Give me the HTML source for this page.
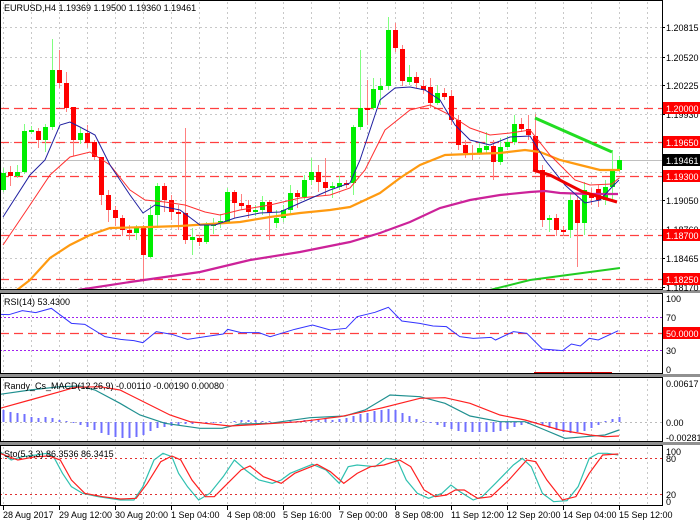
<!DOCTYPE html>
<html><head><meta charset="utf-8"><style>
html,body{margin:0;padding:0;background:#fff;}
svg{display:block;font-family:"Liberation Sans",sans-serif;}
</style></head><body>
<svg id="s" width="700" height="525" viewBox="0 0 700 525" xmlns="http://www.w3.org/2000/svg">
<rect width="700" height="525" fill="#fff"/>
<g id="grid" stroke="#c8c8c8" stroke-width="1" stroke-dasharray="2,3"></g>
<g id="lev"></g>
<g id="cand"></g>
<g id="lines" fill="none"></g>
<g id="frame"></g>
<g id="txt" font-size="9" fill="#000"></g>
</svg>
<script>
var NS="http://www.w3.org/2000/svg";
function el(p,t,a,txt){var e=document.createElementNS(NS,t);for(var k in a)e.setAttribute(k,a[k]);if(txt!=null)e.textContent=txt;document.getElementById(p).appendChild(e);return e;}
function pl(p,pts,col,w,extra){var a={points:pts.map(function(q){return q[0]+","+q[1]}).join(" "),stroke:col,"stroke-width":w,fill:"none"};for(var k in extra)a[k]=extra[k];el(p,"polyline",a);}
var R=662;
for(var x=3;x<R;x+=28){
 [[2,289],[295,374],[379,443],[447,505]].forEach(function(r){el("grid","line",{x1:x+.5,y1:r[0],x2:x+.5,y2:r[1]});});
}
[27,57,85,114,142,172,200,229,258,287].forEach(function(y){el("grid","line",{x1:0,y1:y+.5,x2:R,y2:y+.5});});
[317,350].forEach(function(y){el("grid","line",{x1:0,y1:y+.5,x2:R,y2:y+.5,stroke:"#a020f0","stroke-dasharray":"2,2"});});
el("grid","line",{x1:0,y1:422.5,x2:R,y2:422.5,stroke:"#bbb","stroke-dasharray":"2,3"});
[458,494].forEach(function(y){el("grid","line",{x1:0,y1:y+.5,x2:R,y2:y+.5,stroke:"#e03030","stroke-dasharray":"2,3"});});
el("lev","line",{x1:0,y1:160.5,x2:R,y2:160.5,stroke:"#c0c0c0","stroke-width":1});
[108,142,176,235,279].forEach(function(y){el("lev","line",{x1:0,y1:y+.5,x2:R,y2:y+.5,stroke:"#ff4040","stroke-width":1.3,"stroke-dasharray":"9,5"});});
el("lev","line",{x1:0,y1:333.5,x2:R,y2:333.5,stroke:"#ff4040","stroke-width":1.3,"stroke-dasharray":"9,5"});
el("lev","rect",{x:534,y:372,width:78,height:3,fill:"#d00000"});
var C=[[3,190,173,168,192],[10,172,176,166,186],[17,176,172,165,178],[24,172,131,124,174],[31,131,130,126,134],[38,131,140,128,148],[45,140,127,124,152],[52,127,70,39,130],[59,70,83,50,88],[66,83,108,72,112],[73,107,140,120,156],[80,140,133,128,144],[87,133,143,125,148],[94,142,157,140,160],[101,157,195,160,205],[108,195,210,190,222],[115,210,218,206,226],[122,218,230,215,236],[129,230,233,225,240],[136,233,228,225,240],[143,228,255,225,282],[150,257,215,205,258],[157,215,186,183,228],[164,186,200,183,212],[171,200,212,195,220],[178,212,214,205,230],[185,213,240,128,244],[192,240,237,228,255],[199,238,242,235,246],[206,242,225,222,244],[213,226,224,218,234],[220,224,221,214,228],[227,222,192,188,224],[234,192,203,190,218],[241,203,206,194,210],[248,205,212,200,218],[255,212,210,205,216],[262,210,202,196,215],[269,202,213,200,240],[276,223,218,210,228],[283,218,210,205,222],[290,210,193,185,214],[297,193,197,190,208],[304,197,180,175,200],[311,180,172,158,185],[318,172,182,165,192],[325,182,188,158,195],[332,188,186,182,198],[339,187,183,176,190],[346,183,184,180,188],[353,183,127,125,195],[360,127,108,50,130],[367,108,109,80,125],[373,108,89,78,110],[380,90,86,78,105],[388,86,30,17,90],[395,30,48,23,52],[402,49,81,45,86],[409,82,77,65,85],[416,77,83,72,88],[423,86,90,80,94],[430,87,103,78,108],[437,103,93,85,105],[444,93,97,88,100],[451,96,120,90,125],[458,120,145,115,150],[465,145,153,140,158],[472,153,153,145,160],[479,153,148,142,155],[486,150,146,132,153],[493,146,162,140,180],[500,162,147,138,165],[507,147,142,136,150],[514,142,124,115,145],[521,124,129,118,132],[528,129,135,115,140],[535,136,170,114,174],[542,170,220,165,227],[549,220,218,215,232],[556,218,230,214,236],[563,230,230,226,236],[570,230,200,194,238],[577,200,223,196,267],[584,223,190,182,235],[591,193,198,188,205],[598,189,200,185,207],[605,200,187,180,205],[612,187,170,150,200],[619,170,160,156,172]];
C.forEach(function(c){var up=c[2]<c[1];var wc=up?"#80ff80":"#ff8080",bc=up?"#00ee00":"#ff0000";
 el("cand","line",{x1:c[0]+.5,y1:c[3],x2:c[0]+.5,y2:c[4],stroke:wc,"stroke-width":1});
 var t=Math.min(c[1],c[2]),h=Math.max(2,Math.abs(c[1]-c[2]));el("cand","rect",{x:c[0]-2,y:t,width:5,height:h,fill:bc});});
pl("lines",[[17,290],[30,280],[50,258],[70,245],[90,235],[110,228],[150,227],[180,226],[210,224],[240,222],[270,217],[300,213],[330,210],[350,207],[380,193],[400,178],[420,165],[445,155],[470,154],[500,153],[525,150],[540,152],[560,160],[580,165],[600,170],[620,170]],"#ff9a10",2.2);
pl("lines",[[78,290],[130,282],[200,272],[250,260],[300,252],[350,242],[380,233],[410,222],[440,208],[470,200],[500,195],[530,192],[545,191],[560,193],[590,194],[618,194]],"#cc2299",2.2);
pl("lines",[[3,245],[30,205],[50,175],[70,157],[90,152],[110,165],[130,190],[145,200],[165,202],[185,205],[205,212],[220,215],[240,210],[270,205],[300,198],[330,195],[350,188],[365,170],[385,130],[410,110],[430,105],[450,115],[470,128],[490,135],[510,133],[530,130],[550,155],[575,180],[590,185],[612,184],[619,178]],"#ff3030",1);
pl("lines",[[3,217],[30,175],[45,160],[60,125],[70,122],[80,127],[95,135],[110,165],[130,195],[143,213],[155,205],[165,207],[180,210],[200,225],[215,225],[235,218],[260,213],[280,212],[300,203],[330,190],[350,183],[360,160],[380,100],[395,88],[410,87],[425,90],[440,100],[455,125],[470,140],[490,145],[510,137],[530,136],[545,160],[565,185],[585,203],[600,200],[612,187],[619,180]],"#2020a0",1);
pl("lines",[[440,292],[490,290],[530,280],[560,276],[620,268]],"#22cc22",2);
pl("lines",[[535,118],[612,152]],"#22dd22",3);
pl("lines",[[533,170],[550,175],[583,192],[617,202]],"#ee0000",3);
function cv(a){return a.map(function(q){return [q[0]/2.24,280+q[1]/3];});}
pl("lines",cv([[0,103],[20,104],[50,92],[80,98],[115,85],[160,130],[190,133],[235,170],[270,178],[300,182],[320,188],[350,155],[385,163],[420,178],[460,170],[500,162],[510,148],[540,158],[580,158],[605,170],[660,148],[700,135],[740,150],[775,145],[800,110],[840,97],[870,82],[900,123],[940,130],[970,138],[1000,140],[1030,170],[1060,175],[1100,172],[1110,180],[1150,155],[1180,160],[1215,207],[1260,212],[1280,192],[1300,198],[1320,175],[1340,180],[1385,152]]),"#3333ff",1);
var H=[[3,12],[10,10],[17,9],[24,8],[31,5],[38,4],[45,5],[52,4],[59,2],[66,1],[73,-1],[80,-3],[87,-5],[94,-8],[101,-11],[108,-13],[115,-15],[122,-16],[129,-16],[136,-15],[143,-13],[150,-9],[157,-6],[164,-5],[171,-4],[178,-3],[185,-2],[192,-2],[199,-1],[206,-1],[213,-1],[220,-1],[227,0],[234,1],[241,2],[248,2],[255,2],[262,1],[269,1],[276,0],[283,0],[290,1],[297,1],[304,2],[311,2],[318,3],[325,3],[332,2],[339,3],[346,4],[353,6],[360,8],[367,9],[374,11],[381,12],[388,13],[395,12],[402,9],[409,6],[416,3],[423,1],[430,-1],[437,-3],[444,-5],[451,-7],[458,-9],[465,-10],[472,-10],[479,-10],[486,-10],[493,-10],[500,-9],[507,-7],[514,-5],[521,-3],[528,-2],[535,-1],[542,-3],[549,-6],[556,-8],[563,-10],[570,-11],[577,-10],[584,-9],[591,-6],[598,-3],[605,1],[612,3],[619,5]];
H.forEach(function(h){var y=422,hh=h[1];el("lines","line",{x1:h[0]+.5,y1:y,x2:h[0]+.5,y2:y-hh,stroke:"#7070ff","stroke-width":2});});
pl("lines",cv([[0,343],[30,330],[60,320],[80,318],[95,330],[120,370],[140,405],[165,430],[200,445],[222,445],[240,432],[270,430],[310,413],[345,408],[365,390],[390,345],[420,350],[445,370],[470,408],[500,425],[525,425],[545,450],[565,475],[585,470],[605,465],[619,450]].map(function(q){return [q[0]*2.24,q[1]];})),"#209090",1.2);
pl("lines",cv([[0,385],[30,360],[60,335],[75,322],[100,320],[120,330],[150,375],[170,405],[190,425],[230,438],[260,433],[300,425],[340,410],[380,385],[420,355],[445,353],[470,370],[500,405],[525,420],[560,450],[590,465],[605,470],[619,468]].map(function(q){return [q[0]*2.24,q[1]];})),"#ff2020",1.2);
pl("lines",cv([[0,515],[25,540],[50,530],[80,525],[105,520],[120,530],[140,580],[160,620],[185,640],[220,650],[270,660],[300,660],[320,620],[345,540],[365,520],[385,530],[400,580],[420,620],[445,660],[470,640],[500,590],[525,540],[550,570],[580,600],[610,610],[630,600],[650,580],[700,553],[730,570],[760,610],[780,560],[800,555],[840,560],[865,535],[890,540],[910,600],[935,640],[960,655],[990,640],[1010,615],[1030,635],[1060,660],[1080,650],[1110,610],[1150,555],[1170,535],[1190,560],[1215,640],[1240,665],[1270,662],[1295,620],[1320,535],[1340,520],[1360,520],[1385,525]]),"#30c0b0",1.2);
pl("lines",cv([[0,520],[40,540],[80,530],[110,528],[135,540],[160,600],[190,640],[230,650],[270,657],[305,655],[330,610],[360,545],[385,528],[405,540],[430,600],[460,650],[480,650],[510,610],[540,570],[560,558],[590,590],[630,610],[660,580],[710,553],[740,575],[770,610],[800,580],[830,560],[860,555],[895,540],[920,560],[950,630],[975,650],[1000,645],[1020,630],[1040,630],[1070,655],[1100,650],[1140,600],[1180,540],[1200,545],[1225,600],[1260,660],[1290,650],[1320,580],[1350,525],[1385,522]]),"#ff2020",1.2);
el("frame","rect",{x:0.5,y:0.5,width:R,height:289,fill:"none",stroke:"#000","stroke-width":1});
el("frame","rect",{x:0,y:290,width:700,height:3,fill:"#909090"});
el("frame","rect",{x:0,y:374,width:700,height:3,fill:"#909090"});
el("frame","rect",{x:0,y:442,width:700,height:3,fill:"#909090"});
[[293,374],[377,442],[445,506]].forEach(function(r){el("frame","rect",{x:0.5,y:r[0]+.5,width:R,height:r[1]-r[0]-1,fill:"none",stroke:"#000","stroke-width":1});});
el("txt","text",{x:4,y:11},"EURUSD,H4  1.19369 1.19500 1.19360 1.19461");
el("txt","text",{x:4,y:305},"RSI(14) 53.4300");
el("txt","text",{x:4,y:389},"Randy_Cs_MACD(12,26,9) -0.00110 -0.00190 0.00080");
el("txt","text",{x:4,y:457},"Sto(5,3,3) 86.3536 86.3415");
[[1.20815,27],[1.20520,57],[1.20225,85],[1.19930,114],[1.19050,200],[1.18760,229],[1.18465,258],[1.18170,287]].forEach(function(p){el("frame","line",{x1:R,y1:p[1]+.5,x2:R+3,y2:p[1]+.5,stroke:"#000"});el("txt","text",{x:666,y:p[1]+4},p[0].toFixed(5));});
[[1.20000,108],[1.19650,142],[1.19300,176],[1.18700,235],[1.18250,279]].forEach(function(p){el("txt","rect",{x:663,y:p[1]-6,width:37,height:12,fill:"#ff0000"});el("txt","text",{x:666,y:p[1]+4,fill:"#fff"},p[0].toFixed(5));});
el("txt","rect",{x:663,y:154,width:37,height:12,fill:"#000"});el("txt","text",{x:666,y:164,fill:"#fff"},"1.19461");
[["100",298],["70",317],["30",350],["0",369]].forEach(function(p){el("txt","text",{x:666,y:p[1]+4},p[0]);});
el("txt","rect",{x:663,y:327,width:37,height:12,fill:"#ff0000"});el("txt","text",{x:666,y:337,fill:"#fff"},"50.0000");
[["0.00617",383],["0.00",422],["-0.00281",437]].forEach(function(p){el("txt","text",{x:666,y:p[1]+4},p[0]);});
[["100",451],["80",458],["20",494],["0",501]].forEach(function(p){el("txt","text",{x:666,y:p[1]+4},p[0]);});
var L=["28 Aug 2017","29 Aug 12:00","30 Aug 20:00","1 Sep 04:00","4 Sep 08:00","5 Sep 16:00","7 Sep 00:00","8 Sep 08:00","11 Sep 12:00","12 Sep 20:00","14 Sep 04:00","15 Sep 12:00"];
L.forEach(function(s,i){var x=3+56*i;el("frame","line",{x1:x+.5,y1:506,x2:x+.5,y2:510,stroke:"#000"});el("txt","text",{x:x,y:518},s);});
</script>
</body></html>
